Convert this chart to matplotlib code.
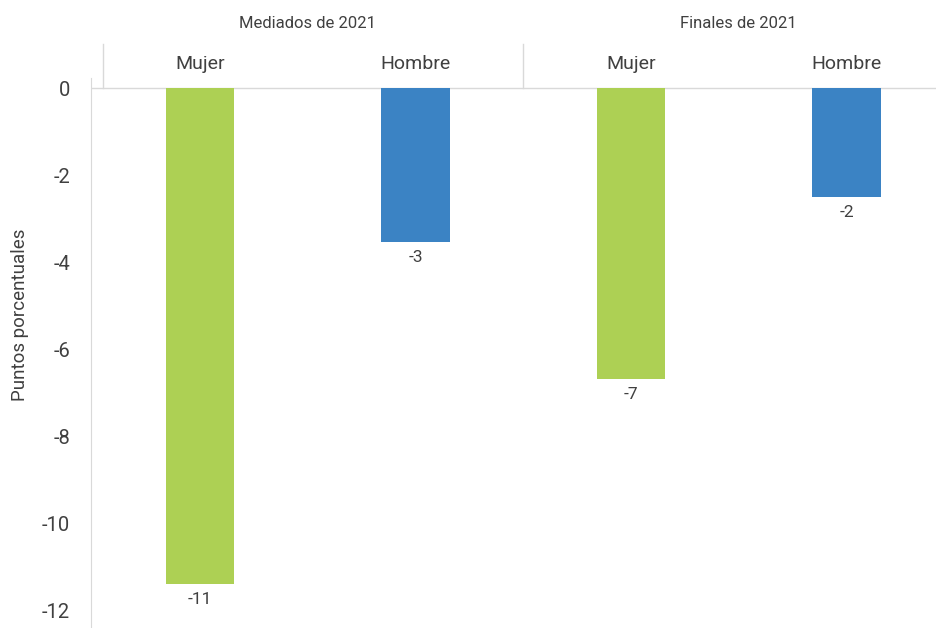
import matplotlib.pyplot as plt

plt.rcParams['font.family'] = ['Roboto', 'DejaVu Sans']

# Brecha por sexo, dos momentos del año
periods = ['Mediados de 2021', 'Finales de 2021']
sexes = ['Mujer', 'Hombre', 'Mujer', 'Hombre']
values = [-11.4, -3.54, -6.69, -2.5]
value_labels = ['-11', '-3', '-7', '-2']
colors = ['#ADD054', '#3B83C4', '#ADD054', '#3B83C4']
yticks = [0, -2, -4, -6, -8, -10, -12]

text_color = '#404040'
grid_color = '#d9d9d9'

fig = plt.figure(figsize=(9.37, 6.28), dpi=100)
ax = fig.add_axes([91 / 937, 0, 1 - 91 / 937, (628 - 78) / 628])

x = list(range(len(sexes)))
ax.bar(x, values, width=0.316, color=colors, zorder=2)

ax.set_xlim(-0.506, 3.42)
ax.set_ylim(-12.41, 0.23)

# value labels under each bar
for xi, v, lab in zip(x, values, value_labels):
    ax.annotate(lab, (xi, v), xytext=(0, -11), textcoords='offset points',
                ha='center', va='center', fontsize=12.5, color=text_color)

# zero line
ax.axhline(0, color=grid_color, lw=1, zorder=1)

# category labels above the chart
for xi, s in zip(x, sexes):
    ax.text(xi, 0.55, s, ha='center', va='center', fontsize=14,
            color=text_color, clip_on=False)
for i, p in enumerate(periods):
    ax.text(0.5 + 2 * i, 1.49, p, ha='center', va='center', fontsize=12,
            color=text_color, clip_on=False)

# separators between groups
for sx in [-0.45, 1.5, 3.45]:
    ax.plot([sx, sx], [0, 1.01], color=grid_color, lw=1, clip_on=False)

for side in ['top', 'right', 'bottom']:
    ax.spines[side].set_visible(False)
ax.spines['left'].set_color(grid_color)
ax.set_xticks([])
ax.set_yticks(yticks)
ax.set_yticklabels([str(t) for t in yticks])
ax.tick_params(axis='y', length=0, pad=15, labelsize=14.5, labelcolor=text_color)

fig.text(20 / 937, 1 - 315 / 628, 'Puntos porcentuales', rotation=90,
         ha='center', va='center', fontsize=13.5, color=text_color)

fig.savefig('out.png', dpi=100)
